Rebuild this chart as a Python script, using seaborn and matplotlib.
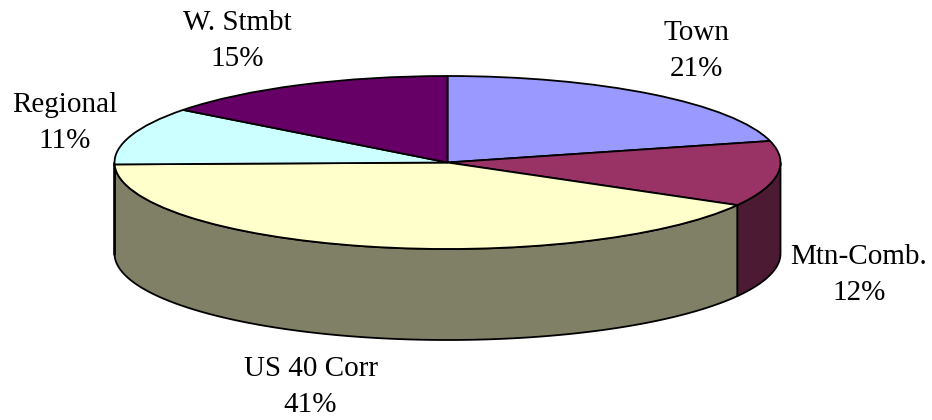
import matplotlib
matplotlib.use("Agg")
import matplotlib.pyplot as plt
import numpy as np
import seaborn as sns

# valores
labels = ["Town", "Mtn-Comb.", "US 40 Corr", "Regional", "W. Stmbt"]
values = [21.0, 12.2, 41.45, 10.75, 14.6]
colors = ["#9999FF", "#993366", "#FFFFCC", "#CCFFFF", "#660066"]

sns.set_theme(style="white")
plt.rcParams["font.family"] = ["Liberation Serif", "DejaVu Serif"]
palette = sns.color_palette(colors)

W, H = 932, 420
cx, cy, rx, ry = 447.5, 162.5, 333, 86.5
depth = 91 / ry

fig = plt.figure(figsize=(W / 100, H / 100), dpi=100)
ax = fig.add_axes([0, 0, 1, 1])

# parede lateral: so a parte da frente (90 a 270 graus a partir do topo)
edges = np.cumsum([0] + values) / sum(values) * 360
for i, c in enumerate(palette):
    a0, a1 = max(edges[i], 90), min(edges[i + 1], 270)
    if a1 <= a0:
        continue
    t = np.radians(np.linspace(a0, a1, 120))
    x, y = np.sin(t), np.cos(t)
    xs = np.r_[x, x[::-1]]
    ys = np.r_[y, y[::-1] - depth]
    ax.fill(xs, ys, color=tuple(v * 0.5 for v in c), ec="black", lw=1.3, zorder=1)

# tampo: pie com aspecto livre vira elipse
wedges, _ = ax.pie(values, colors=palette, startangle=90, counterclock=False,
                   wedgeprops=dict(edgecolor="black", linewidth=1.3, zorder=2))
ax.set_aspect("auto")
ax.set_xlim(-cx / rx, (W - cx) / rx)
ax.set_ylim((cy - H) / ry, cy / ry)
ax.axis("off")

# posicao dos rotulos em pixels da imagem (centro x, baseline da ultima linha)
label_pos = [(696.5, 76), (859, 300), (310.5, 412), (64.5, 148), (237, 66)]
for name, v, (px, py) in zip(labels, values, label_pos):
    ax.text((px - cx) / rx, (cy - py) / ry, f"{name}\n{v:.0f}%", ha="center", va="baseline",
            multialignment="center", fontsize=21, color="black", linespacing=1.52, zorder=3)

fig.savefig("out.png", dpi=100)
